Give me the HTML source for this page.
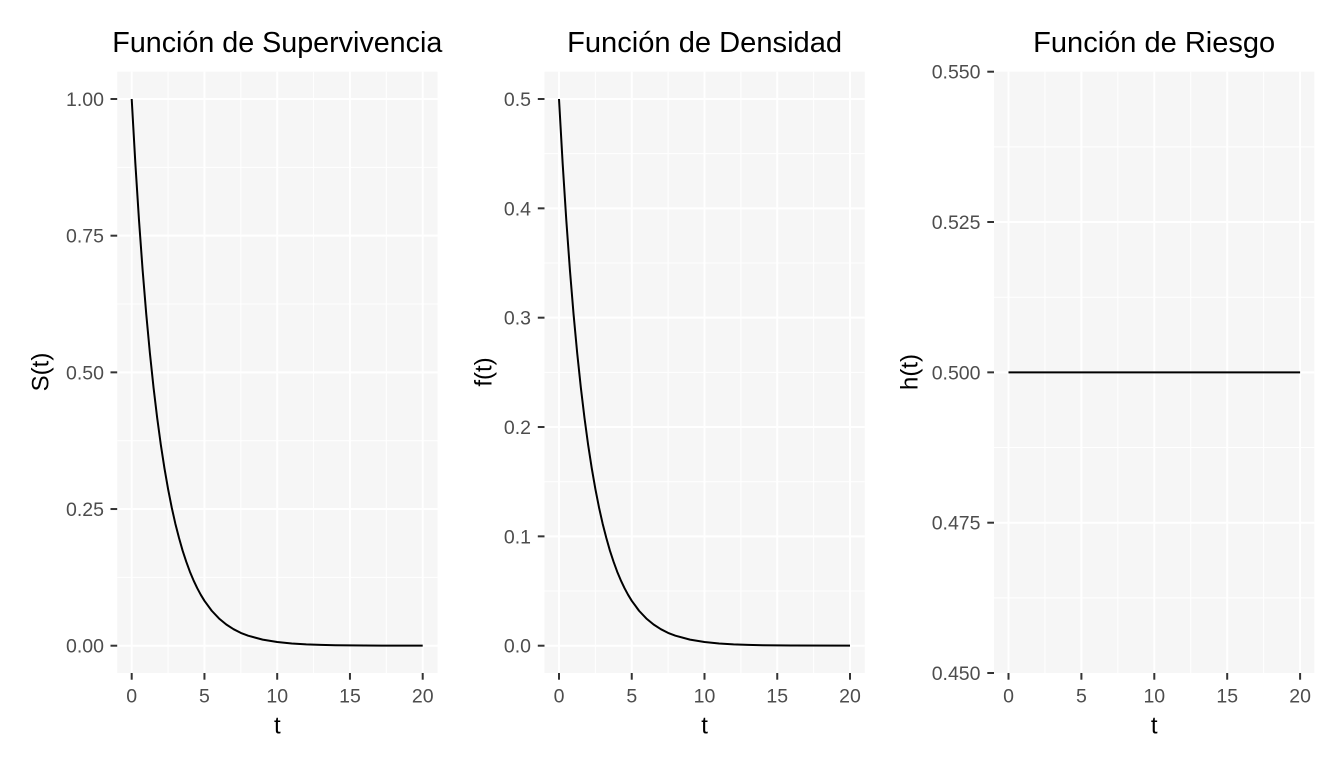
<!DOCTYPE html>
<html><head><meta charset="utf-8"><style>
html,body{margin:0;padding:0;background:#fff;}
svg{display:block;}
text{font-family:"Liberation Sans",Arial,sans-serif;}
.tk{font-size:19.5px;fill:#4D4D4D;}
.tt{font-size:28.5px;fill:#000;}
.at{font-size:24px;fill:#000;}
</style></head><body>
<svg width="1344" height="768" viewBox="0 0 1344 768" xmlns="http://www.w3.org/2000/svg">
<rect width="1344" height="768" fill="#fff"/>

<!-- Panel 1 -->
<rect x="117.2" y="71.7" width="320.3" height="601.3" fill="#F6F6F6"/>
<g stroke="#fff" stroke-width="1">
<line x1="168.08" y1="71.7" x2="168.08" y2="673"/><line x1="240.83" y1="71.7" x2="240.83" y2="673"/>
<line x1="313.58" y1="71.7" x2="313.58" y2="673"/><line x1="386.33" y1="71.7" x2="386.33" y2="673"/>
<line x1="117.2" y1="577.36" x2="437.5" y2="577.36"/><line x1="117.2" y1="440.69" x2="437.5" y2="440.69"/>
<line x1="117.2" y1="304.01" x2="437.5" y2="304.01"/><line x1="117.2" y1="167.34" x2="437.5" y2="167.34"/>
</g>
<g stroke="#fff" stroke-width="2">
<line x1="131.7" y1="71.7" x2="131.7" y2="673"/><line x1="204.45" y1="71.7" x2="204.45" y2="673"/>
<line x1="277.2" y1="71.7" x2="277.2" y2="673"/><line x1="349.95" y1="71.7" x2="349.95" y2="673"/>
<line x1="422.7" y1="71.7" x2="422.7" y2="673"/>
<line x1="117.2" y1="645.7" x2="437.5" y2="645.7"/><line x1="117.2" y1="509.03" x2="437.5" y2="509.03"/>
<line x1="117.2" y1="372.35" x2="437.5" y2="372.35"/><line x1="117.2" y1="235.68" x2="437.5" y2="235.68"/>
<line x1="117.2" y1="99" x2="437.5" y2="99"/>
</g>
<path id="curve" fill="none" stroke="#000" stroke-width="2" stroke-linejoin="round" d="M131.7,99 L135.34,163.24 L138.98,219.93 L142.61,269.96 L146.25,314.11 L149.89,353.07 L153.53,387.46 L157.16,417.8 L160.8,444.58 L164.44,468.21 L168.08,489.07 L171.71,507.47 L175.35,523.71 L179,537.9 L182.63,550.7 L186.3,561.8 L189.9,571.71 L193.5,580.3 L197.18,588.08 L200.8,594.8 L204.45,600.82 L211.73,610.75 L219,618.48 L226.3,624.5 L233.55,629.19 L240.8,632.9 L248.1,635.69 L262.65,639.63 L277.2,642.02 L291.75,643.47 L306.3,644.34 L320.85,644.88 L335.4,645.2 L364.5,645.52 L422.7,645.68"/>
<g stroke="#333" stroke-width="2">
<line x1="110.5" y1="645.7" x2="117.2" y2="645.7"/><line x1="110.5" y1="509.03" x2="117.2" y2="509.03"/>
<line x1="110.5" y1="372.35" x2="117.2" y2="372.35"/><line x1="110.5" y1="235.68" x2="117.2" y2="235.68"/>
<line x1="110.5" y1="99" x2="117.2" y2="99"/>
<line x1="131.7" y1="673" x2="131.7" y2="679.7"/><line x1="204.45" y1="673" x2="204.45" y2="679.7"/>
<line x1="277.2" y1="673" x2="277.2" y2="679.7"/><line x1="349.95" y1="673" x2="349.95" y2="679.7"/>
<line x1="422.7" y1="673" x2="422.7" y2="679.7"/>
</g>
<g class="tk" text-anchor="end">
<text x="104" y="652.7">0.00</text><text x="104" y="516">0.25</text><text x="104" y="379.3">0.50</text>
<text x="104" y="242.7">0.75</text><text x="104" y="106">1.00</text>
</g>
<g class="tk" text-anchor="middle">
<text x="131.7" y="702.5">0</text><text x="204.45" y="702.5">5</text><text x="277.2" y="702.5">10</text>
<text x="349.95" y="702.5">15</text><text x="422.7" y="702.5">20</text>
</g>
<text class="tt" x="277.3" y="52" text-anchor="middle" textLength="330" lengthAdjust="spacingAndGlyphs">Función de Supervivencia</text>
<text class="at" x="277.3" y="733.5" text-anchor="middle">t</text>
<text class="at" transform="translate(48.5,372) rotate(-90)" text-anchor="middle">S(t)</text>

<!-- Panel 2 -->
<rect x="544.5" y="71.7" width="320.3" height="601.3" fill="#F6F6F6"/>
<g stroke="#fff" stroke-width="1">
<line x1="595.38" y1="71.7" x2="595.38" y2="673"/><line x1="668.13" y1="71.7" x2="668.13" y2="673"/>
<line x1="740.88" y1="71.7" x2="740.88" y2="673"/><line x1="813.63" y1="71.7" x2="813.63" y2="673"/>
<line x1="544.5" y1="591.03" x2="864.8" y2="591.03"/><line x1="544.5" y1="481.69" x2="864.8" y2="481.69"/>
<line x1="544.5" y1="372.35" x2="864.8" y2="372.35"/><line x1="544.5" y1="263.01" x2="864.8" y2="263.01"/>
<line x1="544.5" y1="153.67" x2="864.8" y2="153.67"/>
</g>
<g stroke="#fff" stroke-width="2">
<line x1="559" y1="71.7" x2="559" y2="673"/><line x1="631.75" y1="71.7" x2="631.75" y2="673"/>
<line x1="704.5" y1="71.7" x2="704.5" y2="673"/><line x1="777.25" y1="71.7" x2="777.25" y2="673"/>
<line x1="850" y1="71.7" x2="850" y2="673"/>
<line x1="544.5" y1="645.7" x2="864.8" y2="645.7"/><line x1="544.5" y1="536.36" x2="864.8" y2="536.36"/>
<line x1="544.5" y1="427.02" x2="864.8" y2="427.02"/><line x1="544.5" y1="317.68" x2="864.8" y2="317.68"/>
<line x1="544.5" y1="208.34" x2="864.8" y2="208.34"/><line x1="544.5" y1="99" x2="864.8" y2="99"/>
</g>
<use href="#curve" transform="translate(427.3,0)"/>
<g stroke="#333" stroke-width="2">
<line x1="537.8" y1="645.7" x2="544.5" y2="645.7"/><line x1="537.8" y1="536.36" x2="544.5" y2="536.36"/>
<line x1="537.8" y1="427.02" x2="544.5" y2="427.02"/><line x1="537.8" y1="317.68" x2="544.5" y2="317.68"/>
<line x1="537.8" y1="208.34" x2="544.5" y2="208.34"/><line x1="537.8" y1="99" x2="544.5" y2="99"/>
<line x1="559" y1="673" x2="559" y2="679.7"/><line x1="631.75" y1="673" x2="631.75" y2="679.7"/>
<line x1="704.5" y1="673" x2="704.5" y2="679.7"/><line x1="777.25" y1="673" x2="777.25" y2="679.7"/>
<line x1="850" y1="673" x2="850" y2="679.7"/>
</g>
<g class="tk" text-anchor="end">
<text x="531" y="652.7">0.0</text><text x="531" y="543.4">0.1</text><text x="531" y="434">0.2</text>
<text x="531" y="324.7">0.3</text><text x="531" y="215.3">0.4</text><text x="531" y="106">0.5</text>
</g>
<g class="tk" text-anchor="middle">
<text x="559" y="702.5">0</text><text x="631.75" y="702.5">5</text><text x="704.5" y="702.5">10</text>
<text x="777.25" y="702.5">15</text><text x="850" y="702.5">20</text>
</g>
<text class="tt" x="704.6" y="52" text-anchor="middle" textLength="275" lengthAdjust="spacingAndGlyphs">Función de Densidad</text>
<text class="at" x="704.6" y="733.5" text-anchor="middle">t</text>
<text class="at" transform="translate(491.5,372) rotate(-90)" text-anchor="middle">f(t)</text>

<!-- Panel 3 -->
<rect x="994" y="71.7" width="320.3" height="601.3" fill="#F6F6F6"/>
<g stroke="#fff" stroke-width="1">
<line x1="1044.95" y1="71.7" x2="1044.95" y2="673"/><line x1="1117.85" y1="71.7" x2="1117.85" y2="673"/>
<line x1="1190.75" y1="71.7" x2="1190.75" y2="673"/><line x1="1263.65" y1="71.7" x2="1263.65" y2="673"/>
<line x1="994" y1="597.85" x2="1314.3" y2="597.85"/><line x1="994" y1="447.5" x2="1314.3" y2="447.5"/>
<line x1="994" y1="297.2" x2="1314.3" y2="297.2"/><line x1="994" y1="146.85" x2="1314.3" y2="146.85"/>
</g>
<g stroke="#fff" stroke-width="2">
<line x1="1008.5" y1="71.7" x2="1008.5" y2="673"/><line x1="1081.4" y1="71.7" x2="1081.4" y2="673"/>
<line x1="1154.3" y1="71.7" x2="1154.3" y2="673"/><line x1="1227.2" y1="71.7" x2="1227.2" y2="673"/>
<line x1="1300.1" y1="71.7" x2="1300.1" y2="673"/>
<line x1="994" y1="522.7" x2="1314.3" y2="522.7"/><line x1="994" y1="372.35" x2="1314.3" y2="372.35"/>
<line x1="994" y1="222" x2="1314.3" y2="222"/>
</g>
<line x1="1008.5" y1="372.35" x2="1300.1" y2="372.35" stroke="#000" stroke-width="2"/>
<g stroke="#333" stroke-width="2">
<line x1="987.3" y1="673" x2="994" y2="673"/><line x1="987.3" y1="522.7" x2="994" y2="522.7"/>
<line x1="987.3" y1="372.35" x2="994" y2="372.35"/><line x1="987.3" y1="222" x2="994" y2="222"/>
<line x1="987.3" y1="71.7" x2="994" y2="71.7"/>
<line x1="1008.5" y1="673" x2="1008.5" y2="679.7"/><line x1="1081.4" y1="673" x2="1081.4" y2="679.7"/>
<line x1="1154.3" y1="673" x2="1154.3" y2="679.7"/><line x1="1227.2" y1="673" x2="1227.2" y2="679.7"/>
<line x1="1300.1" y1="673" x2="1300.1" y2="679.7"/>
</g>
<g class="tk" text-anchor="end">
<text x="980.5" y="680">0.450</text><text x="980.5" y="529.7">0.475</text><text x="980.5" y="379.3">0.500</text>
<text x="980.5" y="229">0.525</text><text x="980.5" y="78.7">0.550</text>
</g>
<g class="tk" text-anchor="middle">
<text x="1008.5" y="702.5">0</text><text x="1081.4" y="702.5">5</text><text x="1154.3" y="702.5">10</text>
<text x="1227.2" y="702.5">15</text><text x="1300.1" y="702.5">20</text>
</g>
<text class="tt" x="1154.2" y="52" text-anchor="middle" textLength="242" lengthAdjust="spacingAndGlyphs">Función de Riesgo</text>
<text class="at" x="1154.2" y="733.5" text-anchor="middle">t</text>
<text class="at" transform="translate(917.5,372) rotate(-90)" text-anchor="middle">h(t)</text>
</svg>
</body></html>
